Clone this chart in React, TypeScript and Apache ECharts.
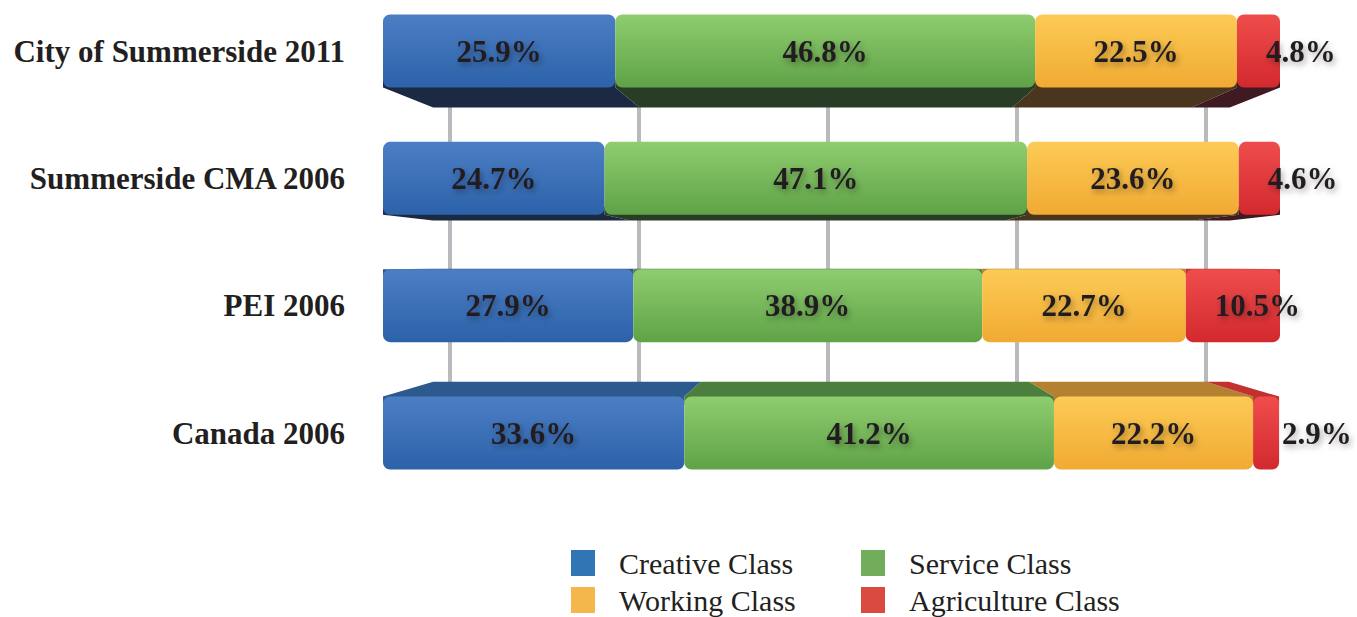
import React, { useEffect, useRef } from "react";
import * as echarts from "echarts";

const categories = ["City of Summerside 2011", "Summerside CMA 2006", "PEI 2006", "Canada 2006"];
const classNames = ["Creative Class", "Service Class", "Working Class", "Agriculture Class"];
const creative = [25.9, 24.7, 27.9, 33.6];
const service = [46.8, 47.1, 38.9, 41.2];
const working = [22.5, 23.6, 22.7, 22.2];
const agriculture = [4.8, 4.6, 10.5, 2.9];

const seriesValues = [creative, service, working, agriculture];
const legendColors = ["#3275b5", "#72ad5c", "#f4b74b", "#d94a40"];
const faceTop = ["#4c7ec4", "#8fcd6f", "#fccb55", "#ef4d4c"];
const faceBottom = ["#2c62aa", "#5fa247", "#f1aa33", "#d3292e"];
const underColors = ["#1b2a42", "#293c26", "#4a361d", "#3f1a22"];
const topColors = ["#2c5a8e", "#4c7f3e", "#b3812f", "#c2302f"];

const FONT = "'Liberation Serif', 'Times New Roman', serif";
const BAR_H = 73;
const VX = 831;
const VY = 265;
const K = 0.888;

export default function App() {
  const ref = useRef<HTMLDivElement>(null);
  useEffect(() => {
    if (!ref.current) return;
    const chart = echarts.init(ref.current, undefined, { renderer: "svg" });

    const depthData: number[][] = [];
    categories.forEach((_, ci) => {
      let acc = 0;
      seriesValues.forEach((arr, k) => {
        depthData.push([ci, acc, acc + arr[ci], k]);
        acc += arr[ci];
      });
    });

    const back = (x: number, y: number) => [VX + (x - VX) * K, VY + (y - VY) * K];

    const renderItem = (params: any, api: any) => {
      const ci = api.value(0);
      const s = api.value(1);
      const e = api.value(2);
      const k = api.value(3);
      const a = api.coord([s, ci]);
      const b = api.coord([e, ci]);
      const top = a[1] - BAR_H / 2;
      const bot = a[1] + BAR_H / 2;
      let pts: number[][] | null = null;
      let color = "";
      if (bot < VY) {
        pts = [[a[0], bot - 8], [b[0], bot - 8], [b[0], bot], back(b[0], bot), back(a[0], bot), [a[0], bot]];
        color = underColors[k];
      } else if (top > VY) {
        pts = [[a[0], top + 8], [a[0], top], back(a[0], top), back(b[0], top), [b[0], top], [b[0], top + 8]];
        color = topColors[k];
      }
      if (!pts) return { type: "group", children: [] };
      return { type: "polygon", shape: { points: pts }, style: { fill: color } };
    };

    const labelBase = {
      show: true,
      position: "inside",
      fontFamily: FONT,
      fontWeight: "bold",
      fontSize: 31,
      color: "#231f20",
      textShadowColor: "rgba(0,0,0,0.35)",
      textShadowBlur: 6,
      textShadowOffsetX: 2,
      textShadowOffsetY: 3,
      formatter: (p: any) => Number(p.value).toFixed(1) + "%",
    };

    const barSeries = seriesValues.map((arr, k) => ({
      name: classNames[k],
      type: "bar",
      stack: "total",
      barWidth: BAR_H,
      clip: false,
      z: 3,
      itemStyle: {
        borderRadius: 7,
        color: {
          type: "linear",
          x: 0, y: 0, x2: 0, y2: 1,
          colorStops: [
            { offset: 0, color: faceTop[k] },
            { offset: 1, color: faceBottom[k] },
          ],
        },
      },
      label: k === 3 ? { ...labelBase, position: "insideLeft", distance: 29 } : labelBase,
      data: arr,
    }));

    const legendCommon = {
      orient: "vertical",
      top: 543,
      height: 100,
      itemWidth: 24,
      itemHeight: 26,
      itemGap: 7,
      icon: "rect",
      selectedMode: false,
      textStyle: {
        fontFamily: FONT,
        fontSize: 30,
        color: "#231f20",
        lineHeight: 30,
        padding: [0, 0, 0, 19],
      },
    };

    chart.setOption({
      animation: false,
      backgroundColor: "#ffffff",
      grid: [
        { left: 383, right: 77, top: 51, bottom: 184 },
        { left: 450, right: 151, top: 60, bottom: 197 },
      ],
      xAxis: [
        { type: "value", min: 0, max: 100, show: false, gridIndex: 0 },
        {
          type: "value",
          gridIndex: 1,
          min: 20,
          max: 100,
          interval: 20,
          axisLabel: { show: false },
          axisLine: { show: false },
          axisTick: { show: false },
          splitLine: { show: true, lineStyle: { color: "#b9babe", width: 4 } },
        },
      ],
      yAxis: [
        {
          type: "category",
          gridIndex: 0,
          data: categories,
          inverse: true,
          boundaryGap: false,
          axisLine: { show: false },
          axisTick: { show: false },
          splitLine: { show: false },
          axisLabel: {
            margin: 38,
            fontFamily: FONT,
            fontWeight: "bold",
            fontSize: 31,
            color: "#231f20",
          },
        },
        {
          type: "value",
          gridIndex: 1,
          min: 0,
          max: 1,
          axisLabel: { show: false },
          axisLine: { show: false },
          axisTick: { show: false },
          splitLine: { show: false },
        },
      ],
      legend: [
        {
          ...legendCommon,
          left: 566,
          data: [
            { name: classNames[0], itemStyle: { color: legendColors[0] } },
            { name: classNames[2], itemStyle: { color: legendColors[2] } },
          ],
        },
        {
          ...legendCommon,
          left: 856,
          data: [
            { name: classNames[1], itemStyle: { color: legendColors[1] } },
            { name: classNames[3], itemStyle: { color: legendColors[3] } },
          ],
        },
      ],
      series: [
        {
          type: "custom",
          name: "depth",
          xAxisIndex: 0,
          yAxisIndex: 0,
          z: 2,
          renderItem,
          encode: { x: [1, 2], y: 0 },
          data: depthData,
          silent: true,
        },
        ...barSeries,
      ],
    } as any);

    return () => chart.dispose();
  }, []);

  return (
    <div
      ref={ref}
      style={{ position: "fixed", left: 0, top: 0, width: 1357, height: 617 }}
    />
  );
}
